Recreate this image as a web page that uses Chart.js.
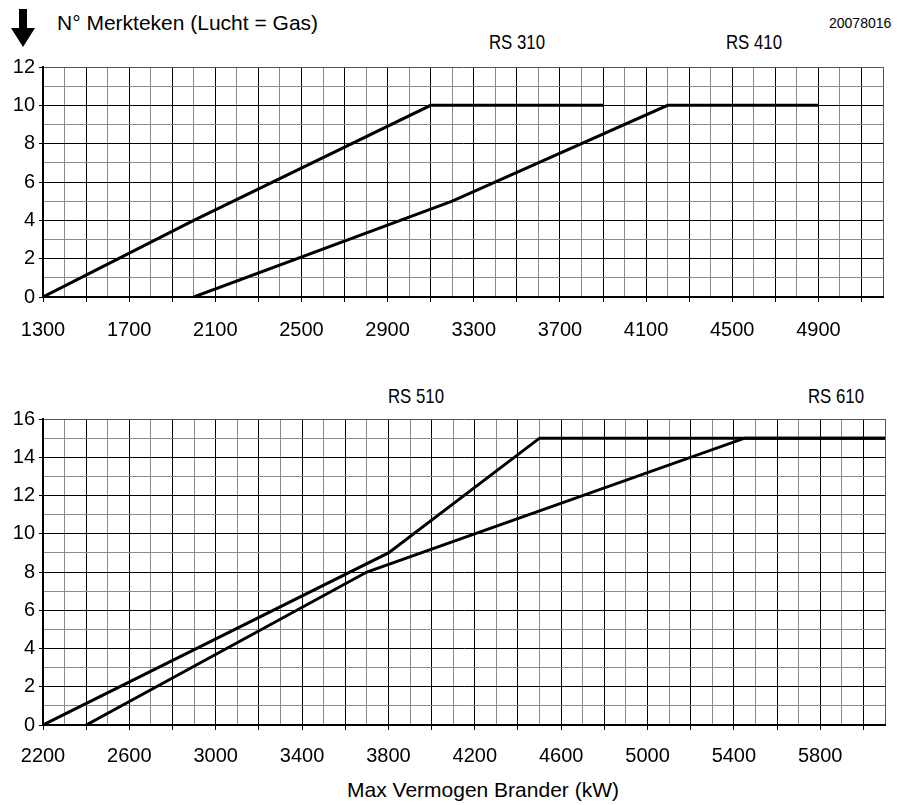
<!DOCTYPE html>
<html>
<head>
<meta charset="utf-8">
<script src="https://cdn.jsdelivr.net/npm/chart.js@4.4.1/dist/chart.umd.min.js"></script>
<style>
  body { margin: 0; background: #fff; width: 899px; height: 805px; position: relative; overflow: hidden; }
  canvas { position: absolute; left: 0; }
  .lbl { position: absolute; white-space: nowrap; line-height: 1; color: #000; font-family: 'Liberation Sans', Arial, sans-serif; }
  .narrow { font-size: 21px; transform: translateX(-50%) scaleX(0.8); }
</style>
</head>
<body>
<svg style="position:absolute;left:11px;top:9px" width="25" height="39" viewBox="0 0 25 39">
  <polygon points="8,0 16,0 16,19 24,19 12,38 0,19 8,19" fill="#000"/>
</svg>
<div class="lbl" style="left:57px;top:12px;font-size:21px">N° Merkteken (Lucht = Gas)</div>
<div class="lbl" style="left:829px;top:16px;font-size:14px">20078016</div>
<div class="lbl narrow" style="left:517px;top:31px">RS 310</div>
<div class="lbl narrow" style="left:754px;top:31px">RS 410</div>
<div class="lbl narrow" style="left:416px;top:385px">RS 510</div>
<div class="lbl narrow" style="left:836px;top:385px">RS 610</div>
<div class="lbl" style="left:483px;top:779px;font-size:21px;transform:translateX(-50%)">Max Vermogen Brander (kW)</div>

<canvas id="top" width="899" height="370" style="top:0"></canvas>
<canvas id="bottom" width="899" height="435" style="top:370px"></canvas>

<script>
// top panel
const topMin = 1300;
const topMax = 5200;
const topYMax = 12;
const rs310X = [1300, 2000, 3100, 3900];
const rs310Y = [0, 4, 10, 10];
const rs410X = [2000, 3200, 4200, 4900];
const rs410Y = [0, 5, 10, 10];

// bottom panel
const botMin = 2200;
const botMax = 6100;
const botYMax = 16;
const rs510X = [2200, 3800, 4500, 6100];
const rs510Y = [0, 9, 15, 15];
const rs610X = [2400, 3700, 5450, 6100];
const rs610Y = [0, 8, 15, 15];

const tickFont = { family: "'Liberation Sans', Arial, sans-serif", size: 20 };

const toPoints = (xs, ys) => xs.map((x, i) => ({ x, y: ys[i] }));

const lineSet = (xs, ys) => ({
  data: toPoints(xs, ys),
  showLine: true,
  borderColor: '#000',
  borderWidth: 3,
  pointRadius: 0,
  tension: 0,
  fill: false,
});

const createPanel = (ctx, min, max, yMax, datasets, xHeight) => new Chart(ctx, {
  type: 'scatter',
  data: { datasets },
  options: {
    responsive: false,
    animation: false,
    events: [],
    layout: { padding: { top: ctx.id === 'top' ? 67 : 49, right: 11, left: 0, bottom: 0 } },
    plugins: { legend: { display: false }, tooltip: { enabled: false } },
    scales: {
      x: {
        type: 'linear',
        min,
        max,
        afterFit: (s) => { s.height = xHeight; },
        border: { color: '#000', width: 2 },
        grid: {
          lineWidth: 1,
          tickLength: 5,
          color: (c) => {
            const v = c.tick.value;
            if (v === max) return '#555';
            return (v - min) % 200 === 0 ? '#000' : '#8a8a8a';
          },
          tickColor: (c) => ((c.tick.value - min) % 200 === 0 ? '#000' : 'rgba(0,0,0,0)'),
        },
        ticks: {
          stepSize: 100,
          autoSkip: false,
          maxRotation: 0,
          minRotation: 0,
          padding: ctx.id === 'top' ? 16 : 14,
          color: '#000',
          font: tickFont,
          callback: (v) => ((v - min) % 400 === 0 && v <= max - 300 ? String(v) : ''),
        },
      },
      y: {
        min: 0,
        max: yMax,
        afterFit: (s) => { s.width = 43; },
        border: { color: '#000', width: 2 },
        grid: {
          lineWidth: 1,
          tickLength: 4,
          color: (c) => {
            const v = c.tick.value;
            if (v === yMax) return '#555';
            return v % 2 === 0 ? '#000' : '#8a8a8a';
          },
          tickColor: (c) => (c.tick.value % 2 === 0 ? '#000' : 'rgba(0,0,0,0)'),
        },
        ticks: {
          stepSize: 1,
          autoSkip: false,
          padding: 4,
          color: '#000',
          font: tickFont,
          callback: (v) => (v % 2 === 0 ? String(v) : ''),
        },
      },
    },
  },
});

createPanel(document.getElementById('top'), topMin, topMax, topYMax,
  [lineSet(rs310X, rs310Y), lineSet(rs410X, rs410Y)], 73);
createPanel(document.getElementById('bottom'), botMin, botMax, botYMax,
  [lineSet(rs510X, rs510Y), lineSet(rs610X, rs610Y)], 80);
</script>
</body>
</html>
